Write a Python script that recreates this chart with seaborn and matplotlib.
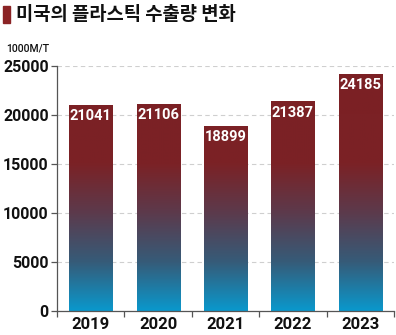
import numpy as np
import pandas as pd
import matplotlib
matplotlib.use("Agg")
import matplotlib.pyplot as plt
import seaborn as sns
from matplotlib.colors import LinearSegmentedColormap
from matplotlib.patches import Rectangle

years = ["2019", "2020", "2021", "2022", "2023"]
exports = [21041, 21106, 18899, 21387, 24185]
yticks = [0, 5000, 10000, 15000, 20000, 25000]
title = "미국의 플라스틱 수출량 변화"
unit = "1000M/T"

sns.set_theme(style="white")
plt.rcParams['font.family'] = ['Noto Sans CJK KR', 'DejaVu Sans']
NUMF = ["Roboto", "DejaVu Sans"]

df = pd.DataFrame({"year": years, "value": exports})

fig = plt.figure(figsize=(3.96, 3.35), dpi=100)
ax = fig.add_axes([57/396, 24/335, 337/396, (311-66)/335])

sns.barplot(data=df, x="year", y="value", color="#7b2024", width=0.64,
            ax=ax, saturation=1, edgecolor="#e9c9cb", linewidth=0.6, zorder=2)

ax.set_ylim(0, 25000)
ax.set_xlim(-0.5, 4.5)

# vertical gradient in data coordinates
cmap = LinearSegmentedColormap.from_list("g", [
    (0.0, "#0a98cc"), (0.2, "#365b78"), (0.4, "#5c3a4c"),
    (0.6, "#7b2226"), (1.0, "#7b2024")])
grad = np.linspace(0, 1, 256).reshape(-1, 1)
for p in ax.patches:
    x0, w, h = p.get_x(), p.get_width(), p.get_height()
    im = ax.imshow(grad, cmap=cmap, origin="lower", aspect="auto",
                   extent=(x0, x0 + w, 0, 25000), zorder=2.5,
                   interpolation="bilinear")
    im.set_clip_path(p)
    ax.annotate(f"{int(h)}", (x0 + w/2, h), xytext=(0, -3),
                textcoords="offset points", ha="center", va="top",
                color="white", fontsize=10.5, fontweight="bold",
                family=NUMF, zorder=4)
ax.set_xlim(-0.5, 4.5)
ax.set_ylim(0, 25000)

ax.set_yticks(yticks)
ax.set_yticklabels([str(v) for v in yticks])
ax.yaxis.grid(True, linestyle=(0, (4, 3)), color="#cfcfcf", linewidth=0.8)
ax.set_axisbelow(True)
for s in ["top", "right"]:
    ax.spines[s].set_visible(False)
for s in ["left", "bottom"]:
    ax.spines[s].set_color("#555555")
    ax.spines[s].set_linewidth(0.9)

ax.set_xlabel("")
ax.set_ylabel("")
ax.set_xticks(np.arange(-0.5, 5.0, 1.0), minor=True)
ax.tick_params(axis="x", which="major", length=0, pad=4)
ax.tick_params(axis="x", which="minor", length=4, color="#555555", width=0.9, bottom=True)
ax.tick_params(axis="y", length=4, color="#555555", width=0.9, left=True, pad=2)
for lbl in ax.get_xticklabels() + ax.get_yticklabels():
    lbl.set_fontweight("bold")
    lbl.set_family(NUMF)
    lbl.set_color("#111111")
for lbl in ax.get_xticklabels():
    lbl.set_fontsize(12)
for lbl in ax.get_yticklabels():
    lbl.set_fontsize(11.5)

fig.patches.append(Rectangle((3/396, 1-23/335), 7/396, 17/335,
                             transform=fig.transFigure, color="#8b2325"))
fig.text(16/396, 1-14/335, title, fontsize=13.5, fontweight="bold",
         va="center", ha="left", color="#111111")
fig.text(6/396, 1-49/335, unit, fontsize=7.5, ha="left", va="center",
         color="#111111", family=NUMF, fontweight="medium")

fig.savefig("out.png", dpi=100)
